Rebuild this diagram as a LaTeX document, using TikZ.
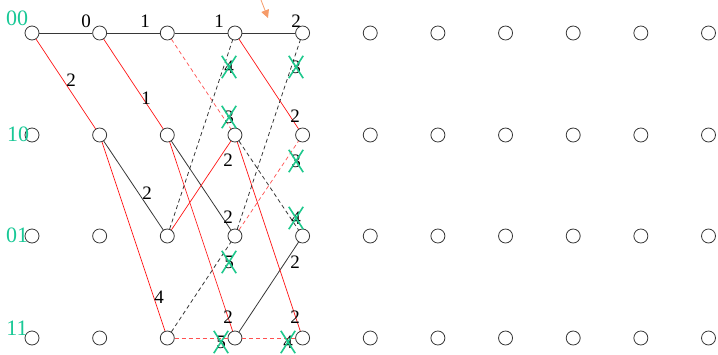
\documentclass[tikz,border=0pt]{standalone}
\usepackage{fontspec}
\setmainfont{Liberation Serif}
\usetikzlibrary{arrows.meta}
\definecolor{statec}{RGB}{25,200,150}
\definecolor{crossc}{RGB}{30,200,140}
\definecolor{arrowc}{RGB}{246,155,105}
\definecolor{redc}{RGB}{255,20,20}
\definecolor{redd}{RGB}{255,80,80}
\definecolor{grayc}{RGB}{55,55,55}
\tikzset{
  st/.style={circle, draw=grayc, line width=0.8pt, minimum size=14pt, inner sep=0pt},
  bk/.style={draw=grayc, line width=0.8pt},
  bkd/.style={draw=grayc, line width=0.8pt, dash pattern=on 4pt off 3pt},
  rd/.style={draw=redc, line width=0.7pt},
  rdd/.style={draw=redd, line width=0.7pt, dash pattern=on 4pt off 3pt},
  lbl/.style={font=\fontsize{19}{19}\selectfont, text=black, inner sep=0pt},
  slbl/.style={font=\fontsize{22}{22}\selectfont, text=statec, inner sep=0pt},
  xm/.style={font=\fontsize{19}{19}\selectfont, text=black, inner sep=0pt, minimum width=14pt, minimum height=22pt},
  xline/.style={draw=crossc, line width=1.6pt},
  parrow/.style={draw=arrowc, line width=0.8pt, -{Triangle[length=8pt,width=8pt]}}
}
\begin{document}
\begin{tikzpicture}[x=1pt,y=-1pt]
\useasboundingbox (0,0) rectangle (718,354);
% state nodes
\foreach \c in {0,...,10} {
  \foreach \r/\y in {0/33,1/135,2/236,3/338} {
    \node[st] (n-\c-\r) at ({32+67.65*\c},\y) {};
  }
}
% state labels
\node[slbl] (s00) at (17,18) {00};
\node[slbl] (s10) at (18,134) {10};
\node[slbl] (s01) at (17,235) {01};
\node[slbl] (s11) at (17,328) {11};
% black solid
\foreach \a/\b in {0-0/1-0, 1-0/2-0, 1-1/2-2, 2-0/3-0, 2-1/3-2, 3-0/4-0, 3-3/4-2}
  \draw[bk] (n-\a) -- (n-\b);
% red solid
\foreach \a/\b in {0-0/1-1, 1-0/2-1, 1-1/2-3, 2-1/3-3, 2-2/3-1, 3-0/4-1, 3-1/4-3}
  \draw[rd] (n-\a) -- (n-\b);
% red dashed
\foreach \a/\b in {2-0/3-1, 2-3/3-3, 3-2/4-1, 3-3/4-3}
  \draw[rdd] (n-\a) -- (n-\b);
% black dashed
\foreach \a/\b in {2-2/3-0, 2-3/3-2, 3-1/4-2, 3-2/4-0}
  \draw[bkd] (n-\a) -- (n-\b);
% metric labels
\node[lbl] (m1) at (86,21) {0};
\node[lbl] (m2) at (145,21) {1};
\node[lbl] (m3) at (71,80) {2};
\node[lbl] (m4) at (146,98) {1};
\node[lbl] (m5) at (147,193) {2};
\node[lbl] (m6) at (159,297) {4};
\node[lbl] (m7) at (219,21) {1};
\node[lbl] (m8) at (296,21) {2};
\node[lbl] (m9) at (228,160) {2};
\node[lbl] (m10) at (228,217) {2};
\node[lbl] (m11) at (228,317) {2};
\node[lbl] (m12) at (295,116) {2};
\node[lbl] (m13) at (295,262) {2};
\node[lbl] (m14) at (295,317) {2};
% discarded metrics with crosses
\foreach \n/\x/\y/\d in {x1/229/67/4, x2/229/117/3, x3/229/262/5, x4/221/342/5, x5/296/67/3, x6/296/161/3, x7/296/218/4, x8/288/342/4} {
  \node[xm] (\n) at (\x,\y) {\d};
  \draw[xline] (\n.north west) -- (\n.south east) (\n.north east) -- (\n.south west);
}
% pointer arrow
\coordinate (a0) at (261,0);
\coordinate (a1) at (268,18);
\draw[parrow] (a0) -- (a1);
\end{tikzpicture}
\end{document}
